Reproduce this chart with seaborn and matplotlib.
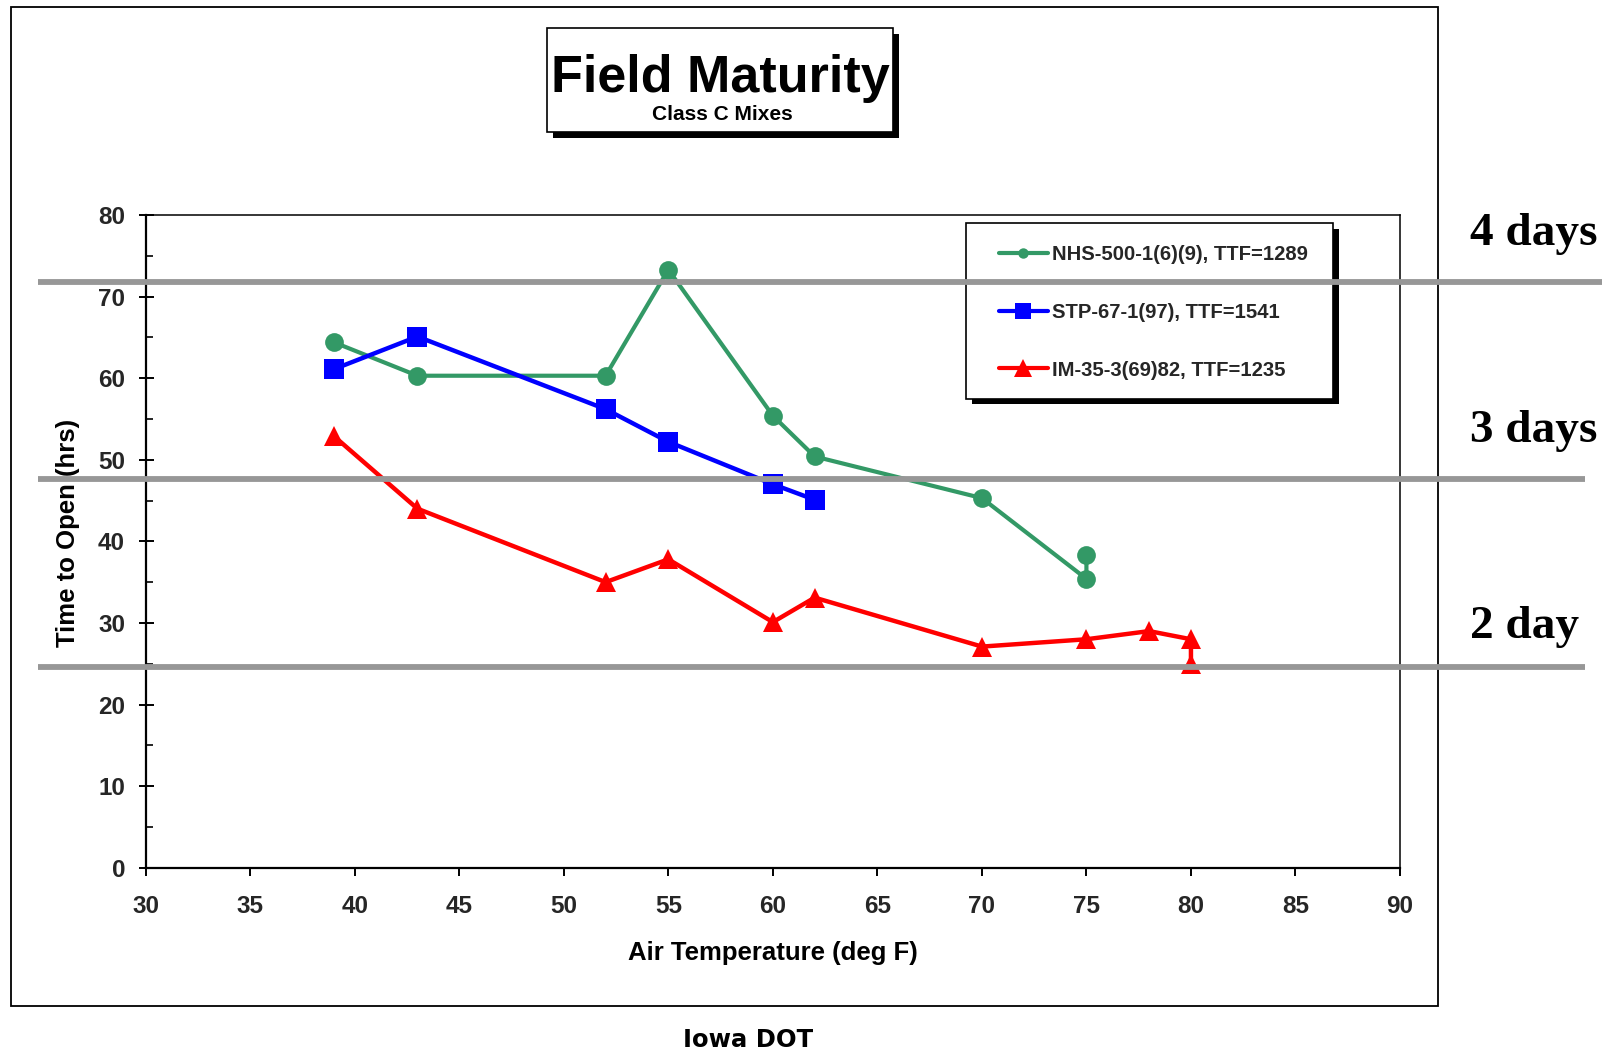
import numpy as np
import pandas as pd
import matplotlib
matplotlib.use("Agg")
import matplotlib.pyplot as plt
import matplotlib.transforms as mtransforms
from matplotlib.patches import Rectangle
from matplotlib.lines import Line2D
import seaborn as sns

# ---------------- data ----------------
nhs_temp = [39, 43, 52, 55, 60, 62, 70, 75, 75]
nhs_hours = [64.4, 60.3, 60.3, 73.3, 55.4, 50.4, 45.3, 35.4, 38.3]

stp_temp = [39, 43, 52, 55, 60, 62]
stp_hours = [61.1, 65.1, 56.2, 52.2, 47.0, 45.1]

im_temp = [39, 43, 52, 55, 60, 62, 70, 75, 78, 80, 80]
im_hours = [52.9, 44.0, 35.0, 37.8, 30.1, 33.1, 27.1, 28.0, 29.0, 28.0, 25.0]

series_names = ["NHS-500-1(6)(9), TTF=1289", "STP-67-1(97), TTF=1541", "IM-35-3(69)82, TTF=1235"]
series_colors = ["#339966", "#0000FF", "#FF0000"]

x_ticks = [30, 35, 40, 45, 50, 55, 60, 65, 70, 75, 80, 85, 90]
y_ticks = [0, 10, 20, 30, 40, 50, 60, 70, 80]

day_line_hours = [71.8, 47.7, 24.6]
day_labels = ["4 days", "3 days", "2 day"]

# ---------------- style ----------------
sns.set_theme(style="white")
plt.rcParams["font.family"] = ["Liberation Sans", "DejaVu Sans"]
plt.rcParams["font.weight"] = "bold"

W, H = 1607, 1053
fig = plt.figure(figsize=(W / 100, H / 100), dpi=100)
fig.patch.set_facecolor("white")

def fx(px):
    return px / W

def fy(py):
    return 1 - py / H

ax = fig.add_axes([fx(145.7), fy(867.7), fx(1400) - fx(145.7), fy(215) - fy(867.7)])
ax.set_facecolor("white")

df_nhs = pd.DataFrame({"temp": nhs_temp, "hours": nhs_hours})
df_stp = pd.DataFrame({"temp": stp_temp, "hours": stp_hours})
df_im = pd.DataFrame({"temp": im_temp, "hours": im_hours})

sns.lineplot(data=df_nhs, x="temp", y="hours", sort=False, estimator=None, ax=ax,
             color=series_colors[0], linewidth=3, marker="o", markersize=13.5,
             markeredgewidth=0, label=series_names[0], legend=False)
sns.lineplot(data=df_stp, x="temp", y="hours", sort=False, estimator=None, ax=ax,
             color=series_colors[1], linewidth=3.2, marker="s", markersize=14,
             markeredgewidth=0, label=series_names[1], legend=False)
sns.lineplot(data=df_im, x="temp", y="hours", sort=False, estimator=None, ax=ax,
             color=series_colors[2], linewidth=3.2, marker="^", markersize=15,
             markeredgewidth=0, label=series_names[2], legend=False)

ax.set_xlim(30, 90)
ax.set_ylim(0, 80)
ax.set_xticks(x_ticks)
ax.set_yticks(y_ticks)
ax.set_yticks(np.arange(5, 80, 10), minor=True)
ax.set_xticklabels([str(t) for t in x_ticks], fontsize=17.5, fontweight="bold")
ax.set_yticklabels([str(t) for t in y_ticks], fontsize=17.5, fontweight="bold")
ax.tick_params(axis="y", which="major", direction="inout", length=10.8, width=1.4,
               color="black", pad=9.5, left=True)
ax.tick_params(axis="y", which="minor", direction="in", length=5, width=1.2,
               color="black", left=True)
ax.tick_params(axis="x", which="major", direction="out", length=6, width=1.4,
               color="black", pad=13.5, bottom=True)
ax.grid(False)
for side in ["left", "bottom"]:
    ax.spines[side].set_linewidth(1.6)
    ax.spines[side].set_color("black")
for side in ["top", "right"]:
    ax.spines[side].set_linewidth(1.1)
    ax.spines[side].set_color("black")

ax.set_xlabel("Air Temperature (deg F)", fontsize=18.5, fontweight="bold", color="black")
ax.set_ylabel("Time to Open (hrs)", fontsize=18.5, fontweight="bold", color="black")
ax.xaxis.set_label_coords(0.5, (867.7 - 953) / 652.7)
ax.xaxis.label.set_va("center")
ax.yaxis.set_label_coords((68 - 145.7) / 1254.3, (867.7 - 533) / 652.7)
ax.yaxis.label.set_va("center")

# ---------------- legend ----------------
handles = [
    Line2D([], [], color=series_colors[0], linewidth=3, marker="o", markersize=7.5, markeredgewidth=0),
    Line2D([], [], color=series_colors[1], linewidth=3, marker="s", markersize=12, markeredgewidth=0),
    Line2D([], [], color=series_colors[2], linewidth=3, marker="^", markersize=12.5, markeredgewidth=0),
]
fig.add_artist(Rectangle((fx(972), fy(404)), fx(1339) - fx(972), fy(229) - fy(404),
                         transform=fig.transFigure, facecolor="black", edgecolor="none", zorder=3))
fig.add_artist(Rectangle((fx(966), fy(399)), fx(1333) - fx(966), fy(223) - fy(399),
                         transform=fig.transFigure, facecolor="white", edgecolor="black",
                         linewidth=1.2, zorder=3.1))
leg = fig.legend(handles, series_names, loc="center left",
                 bbox_to_anchor=(fx(999), fy(312.5)), bbox_transform=fig.transFigure,
                 frameon=False, borderpad=0, borderaxespad=0, handlelength=2.4,
                 handletextpad=0.2, labelspacing=1.9,
                 prop={"size": 14.6, "weight": "bold", "family": ["Liberation Sans", "DejaVu Sans"]})
leg.set_zorder(3.2)

# ---------------- title box ----------------
fig.add_artist(Rectangle((fx(553), fy(138)), fx(899) - fx(553), fy(34) - fy(138),
                         transform=fig.transFigure, facecolor="black", edgecolor="none", zorder=3))
fig.add_artist(Rectangle((fx(547), fy(132)), fx(893) - fx(547), fy(28) - fy(132),
                         transform=fig.transFigure, facecolor="white", edgecolor="black",
                         linewidth=1.2, zorder=3.1))
fig.text(fx(720.5), fy(91.7), "Field Maturity", ha="center", va="baseline",
         fontsize=37.5, fontweight="bold", color="black", zorder=3.2)
fig.text(fx(722), fy(120.5), "Class C Mixes", ha="center", va="baseline",
         fontsize=15, fontweight="bold", color="black", zorder=3.2)

# ---------------- outer frame ----------------
fig.add_artist(Rectangle((fx(10.5), fy(1006)), fx(1438) - fx(10.5), fy(6.5) - fy(1006),
                         transform=fig.transFigure, facecolor="none", edgecolor="black",
                         linewidth=1.3, zorder=1))

# ---------------- day lines ----------------
blend = mtransforms.blended_transform_factory(fig.transFigure, ax.transData)
line_ends = [1602, 1585, 1585]
for hrs, xe in zip(day_line_hours, line_ends):
    fig.add_artist(Line2D([fx(38), fx(xe)], [hrs, hrs], transform=blend,
                          color="#979797", linewidth=4.2, solid_capstyle="butt", zorder=10))

label_baselines = [245, 441.7, 638]
for lab, yb in zip(day_labels, label_baselines):
    fig.text(fx(1470.5), fy(yb), lab, ha="left", va="baseline", fontsize=34,
             fontweight="bold", family=["Liberation Serif", "DejaVu Serif"], color="black")

fig.text(fx(748), fy(1040), "Iowa DOT", ha="center", va="center", fontsize=17.5,
         fontweight="bold", family=["DejaVu Sans"], color="black")

fig.savefig("out.png", dpi=100, facecolor="white")
